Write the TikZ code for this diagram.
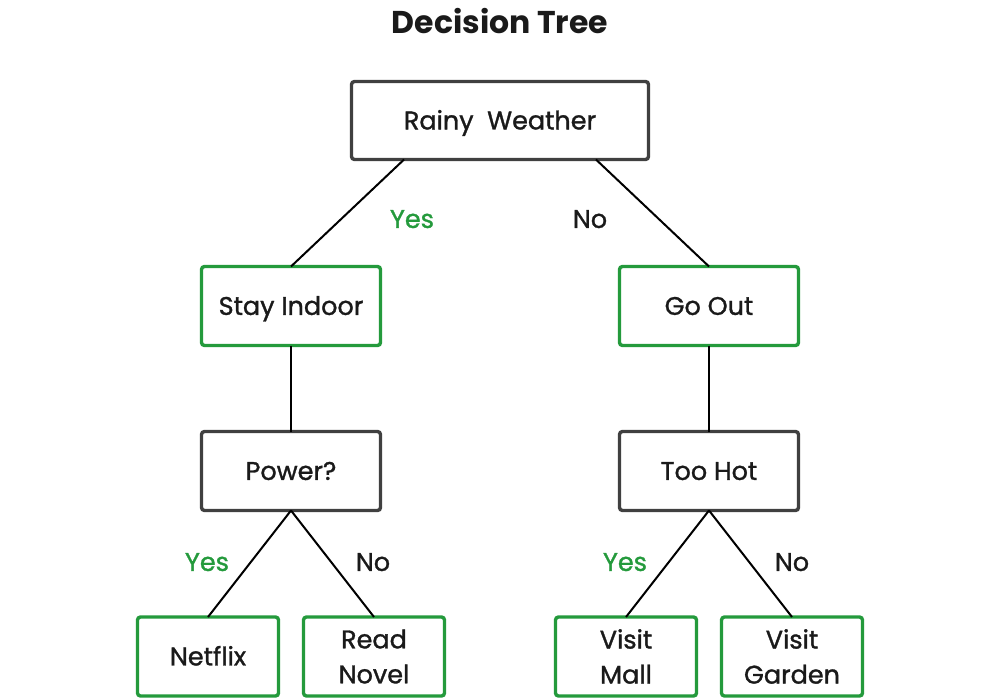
\documentclass[tikz,border=0pt]{standalone}
\usepackage{fontspec}
\setmainfont{Poppins}
\newfontfamily\bodyfont{Poppins}[FakeBold=1.2]
\usetikzlibrary{calc}
\definecolor{boxgray}{HTML}{404040}
\definecolor{leafgreen}{HTML}{249A3C}
\definecolor{txt}{HTML}{1A1A1A}
\tikzset{
  x=1pt, y=-1pt,
  box/.style={draw=boxgray, line width=3.4pt, rounded corners=3pt, fill=white,
    inner sep=0pt, outer sep=0pt, text=txt, align=center,
    font=\bodyfont\fontsize{25.5}{35}\selectfont},
  oneline/.style={text height=17.8pt, text depth=0pt},
  greenbox/.style={box, draw=leafgreen},
  wide/.style={minimum width=297pt, minimum height=78pt},
  mid/.style={minimum width=179pt, minimum height=79pt},
  leaf/.style={minimum width=141pt, minimum height=79pt},
  edge/.style={draw=black, line width=2pt},
  lab/.style={font=\bodyfont\fontsize{25.5}{30}\selectfont, text height=17.8pt, text depth=0pt, inner sep=0pt},
  yeslab/.style={lab, text=leafgreen},
  nolab/.style={lab, text=txt},
}
\begin{document}
\begin{tikzpicture}
\useasboundingbox[fill=white] (0,0) rectangle (1000,700);
\node[font=\fontsize{31.5}{36}\selectfont\bfseries, text=txt, text height=22pt, text depth=0pt, inner sep=0pt] (title) at (500,22.5) {Decision Tree};
\node[box, wide, oneline] (root) at (500,120.5) {Rainy\ \ Weather};
\node[greenbox, mid, oneline] (indoor) at (291,306) {Stay Indoor};
\node[greenbox, mid, oneline] (out) at (709,306) {Go Out};
\node[box, mid, oneline] (power) at (291,471) {Power?};
\node[box, mid, oneline] (hot) at (709,471) {Too Hot};
\node[greenbox, leaf, oneline] (netflix) at (208,656.5) {Netflix};
\node[greenbox, leaf] (novel) at (374,656.5) {Read\\Novel};
\node[greenbox, leaf] (mall) at (626,656.5) {Visit\\Mall};
\node[greenbox, leaf] (garden) at (792,656.5) {Visit\\Garden};
\draw[edge] ($(root.south west)!0.177!(root.south east)$) -- (indoor.north);
\draw[edge] ($(root.south west)!0.823!(root.south east)$) -- (out.north);
\draw[edge] (indoor.south) -- (power.north);
\draw[edge] (out.south) -- (hot.north);
\draw[edge] (power.south) -- (netflix.north);
\draw[edge] (power.south) -- (novel.north);
\draw[edge] (hot.south) -- (mall.north);
\draw[edge] (hot.south) -- (garden.north);
\node[yeslab] (y1) at (412,219) {Yes};
\node[nolab] (n1) at (590,219) {No};
\node[yeslab] (y2) at (207,562) {Yes};
\node[nolab] (n2) at (373,562) {No};
\node[yeslab] (y3) at (625,562) {Yes};
\node[nolab] (n3) at (792,562) {No};
\end{tikzpicture}
\end{document}
